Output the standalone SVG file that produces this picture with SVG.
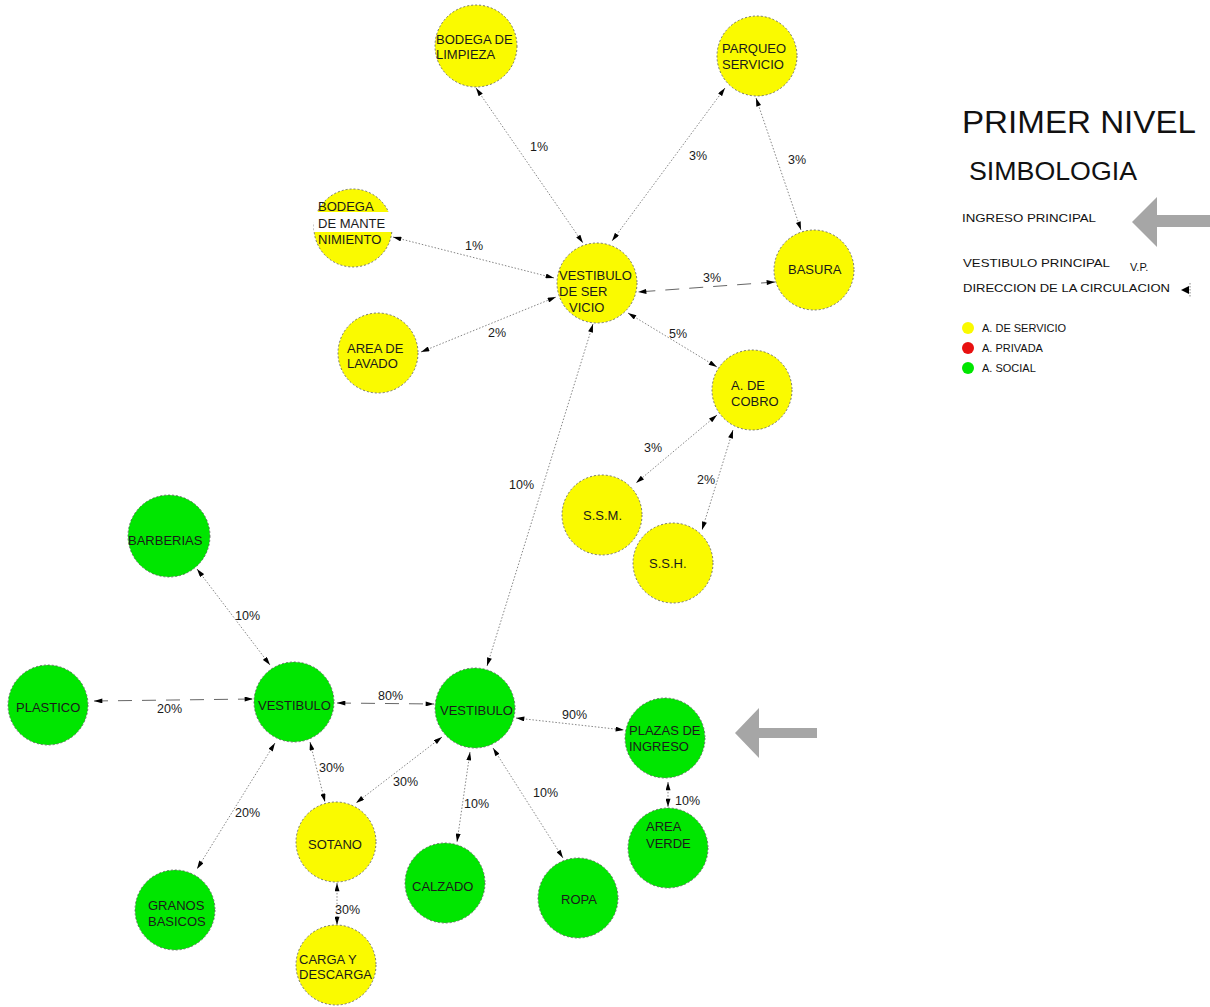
<svg xmlns="http://www.w3.org/2000/svg" width="1210" height="1007" viewBox="0 0 1210 1007">
<style>
.n{stroke:#555;stroke-width:0.8;stroke-dasharray:2 2}
.y{fill:#fafa00}
.g{fill:#00e600}
.t{font-family:"Liberation Sans",Arial,sans-serif;font-size:13px;fill:#1a1a1a}
.l{font-family:"Liberation Sans",Arial,sans-serif;font-size:12.5px;fill:#1a1a1a}
.e{fill:none;stroke:#666;stroke-width:0.8;stroke-dasharray:1.5 1.8;marker-start:url(#ah);marker-end:url(#ah)}
.d{fill:none;stroke:#555;stroke-width:0.9;stroke-dasharray:14 10;marker-start:url(#ah);marker-end:url(#ah)}
.lg{font-family:"Liberation Sans",Arial,sans-serif;fill:#111}
</style>
<defs>
<marker id="ah" viewBox="0 0 10 6" refX="10" refY="3" markerWidth="9" markerHeight="5" markerUnits="userSpaceOnUse" orient="auto-start-reverse">
<path d="M0,0 L10,3 L0,6 z" fill="#000"/>
</marker>
</defs>
<rect width="1210" height="1007" fill="#fff"/>

<g id="connectors">
<line class="e" x1="476" y1="88" x2="583" y2="243"/>
<line class="e" x1="725" y1="88" x2="612" y2="241"/>
<line class="e" x1="756" y1="98" x2="801" y2="230"/>
<line class="e" x1="393" y1="237" x2="554" y2="278"/>
<line class="e" x1="421" y1="352" x2="556" y2="297"/>
<line class="d" x1="775" y1="282" x2="638" y2="292"/>
<line class="e" x1="628" y1="313" x2="717" y2="367"/>
<line class="e" x1="717" y1="415" x2="636" y2="483"/>
<line class="e" x1="733" y1="430" x2="702" y2="530"/>
<line class="e" x1="593" y1="324" x2="487" y2="666"/>
<line class="e" x1="197" y1="569" x2="270" y2="665"/>
<line class="d" x1="94" y1="701" x2="253" y2="699"/>
<line class="d" x1="337" y1="703" x2="434" y2="704"/>
<line class="e" x1="516" y1="718" x2="624" y2="730"/>
<line class="e" x1="668" y1="782" x2="668" y2="807"/>
<line class="e" x1="310" y1="742" x2="325" y2="802"/>
<line class="e" x1="442" y1="737" x2="356" y2="803"/>
<line class="e" x1="275" y1="743" x2="197" y2="869"/>
<line class="e" x1="470" y1="752" x2="457" y2="842"/>
<line class="e" x1="493" y1="748" x2="563" y2="858"/>
<line class="e" x1="337" y1="883" x2="337" y2="925"/>
<text class="l" x="530" y="151">1%</text>
<text class="l" x="689" y="160">3%</text>
<text class="l" x="788" y="164">3%</text>
<text class="l" x="465" y="250">1%</text>
<text class="l" x="488" y="337">2%</text>
<text class="l" x="669" y="338">5%</text>
<text class="l" x="703" y="282">3%</text>
<text class="l" x="644" y="452">3%</text>
<text class="l" x="697" y="484">2%</text>
<text class="l" x="509" y="489">10%</text>
<text class="l" x="235" y="620">10%</text>
<text class="l" x="157" y="713">20%</text>
<text class="l" x="378" y="700">80%</text>
<text class="l" x="319" y="772">30%</text>
<text class="l" x="393" y="786">30%</text>
<text class="l" x="464" y="808">10%</text>
<text class="l" x="533" y="797">10%</text>
<text class="l" x="562" y="719">90%</text>
<text class="l" x="675" y="805">10%</text>
<text class="l" x="235" y="817">20%</text>
<text class="l" x="335" y="914">30%</text>
</g>

<g id="bodega-limpieza"><circle class="n y" cx="476" cy="46" r="41"/><text class="t" x="436" y="44">BODEGA DE</text><text class="t" x="436" y="59">LIMPIEZA</text></g>
<g id="parqueo-servicio"><circle class="n y" cx="757" cy="56" r="40"/><text class="t" x="722" y="53">PARQUEO</text><text class="t" x="722" y="69">SERVICIO</text></g>
<g id="bodega-mantenimiento"><circle class="n y" cx="353" cy="228" r="39"/><rect x="314" y="212" width="80" height="20" fill="#fff"/><text class="t" x="318" y="211">BODEGA</text><text class="t" x="318" y="228">DE MANTE</text><text class="t" x="318" y="244">NIMIENTO</text></g>
<g id="vestibulo-servicio"><circle class="n y" cx="597" cy="283" r="40"/><text class="t" x="559" y="280">VESTIBULO</text><text class="t" x="559" y="296">DE SER</text><text class="t" x="569" y="312">VICIO</text></g>
<g id="area-lavado"><circle class="n y" cx="378" cy="353" r="40"/><text class="t" x="347" y="353">AREA DE</text><text class="t" x="347" y="368">LAVADO</text></g>
<g id="basura"><circle class="n y" cx="814" cy="270" r="40"/><text class="t" x="788" y="274">BASURA</text></g>
<g id="cobro"><circle class="n y" cx="752" cy="390" r="40"/><text class="t" x="731" y="390">A. DE</text><text class="t" x="731" y="406">COBRO</text></g>
<g id="ssm"><circle class="n y" cx="602" cy="515" r="40"/><text class="t" x="583" y="520">S.S.M.</text></g>
<g id="ssh"><circle class="n y" cx="673" cy="563" r="40"/><text class="t" x="649" y="568">S.S.H.</text></g>
<g id="barberias"><circle class="n g" cx="169" cy="536" r="41"/><text class="t" x="128" y="545">BARBERIAS</text></g>
<g id="plastico"><circle class="n g" cx="48" cy="705" r="40"/><text class="t" x="16" y="712">PLASTICO</text></g>
<g id="vestibulo-1"><circle class="n g" cx="294" cy="702" r="40"/><text class="t" x="258" y="710">VESTIBULO</text></g>
<g id="vestibulo-2"><circle class="n g" cx="475" cy="708" r="40"/><text class="t" x="440" y="715">VESTIBULO</text></g>
<g id="plazas-ingreso"><circle class="n g" cx="665" cy="738" r="40"/><text class="t" x="629" y="735">PLAZAS DE</text><text class="t" x="629" y="751">INGRESO</text></g>
<g id="area-verde"><circle class="n g" cx="668" cy="848" r="40"/><text class="t" x="646" y="831">AREA</text><text class="t" x="646" y="848">VERDE</text></g>
<g id="sotano"><circle class="n y" cx="336" cy="842" r="40"/><text class="t" x="308" y="849">SOTANO</text></g>
<g id="calzado"><circle class="n g" cx="445" cy="883" r="40"/><text class="t" x="412" y="891">CALZADO</text></g>
<g id="carga-descarga"><circle class="n y" cx="336" cy="965" r="40"/><text class="t" x="299" y="964">CARGA Y</text><text class="t" x="299" y="979">DESCARGA</text></g>
<g id="granos-basicos"><circle class="n g" cx="175" cy="910" r="40"/><text class="t" x="148" y="910">GRANOS</text><text class="t" x="148" y="926">BASICOS</text></g>
<g id="ropa"><circle class="n g" cx="578" cy="898" r="40"/><text class="t" x="561" y="904">ROPA</text></g>

<g id="ingreso-arrow"><polygon points="735,733 759,708 759,728 817,728 817,738 759,738 759,758" fill="#a6a6a6"/></g>

<g id="legend">
<text class="lg" x="962" y="133" font-size="31" textLength="234" lengthAdjust="spacingAndGlyphs">PRIMER NIVEL</text>
<text class="lg" x="969" y="180" font-size="25" textLength="168" lengthAdjust="spacingAndGlyphs">SIMBOLOGIA</text>
<text class="lg" x="962" y="222" font-size="11.5" textLength="134" lengthAdjust="spacingAndGlyphs">INGRESO PRINCIPAL</text>
<polygon points="1132,222 1157,197 1157,215 1210,215 1210,227 1157,227 1157,247" fill="#a6a6a6"/>
<text class="lg" x="963" y="267" font-size="11.5" textLength="147" lengthAdjust="spacingAndGlyphs">VESTIBULO PRINCIPAL</text>
<text class="lg" x="1130" y="271" font-size="11">V.P.</text>
<text class="lg" x="963" y="292" font-size="11.5" textLength="207" lengthAdjust="spacingAndGlyphs">DIRECCION DE LA CIRCULACION</text>
<polygon points="1181,290 1189,286 1189,294" fill="#000"/>
<line x1="1190" y1="283" x2="1190" y2="297" stroke="#666" stroke-width="0.8" stroke-dasharray="1.5 1.5"/>
<circle cx="968" cy="328" r="6" fill="#fafa00"/>
<circle cx="968" cy="348" r="6" fill="#e81010"/>
<circle cx="968" cy="368" r="6" fill="#00e600"/>
<text class="lg" x="982" y="332" font-size="11">A. DE SERVICIO</text>
<text class="lg" x="982" y="352" font-size="11">A. PRIVADA</text>
<text class="lg" x="982" y="372" font-size="11">A. SOCIAL</text>
</g>
</svg>
